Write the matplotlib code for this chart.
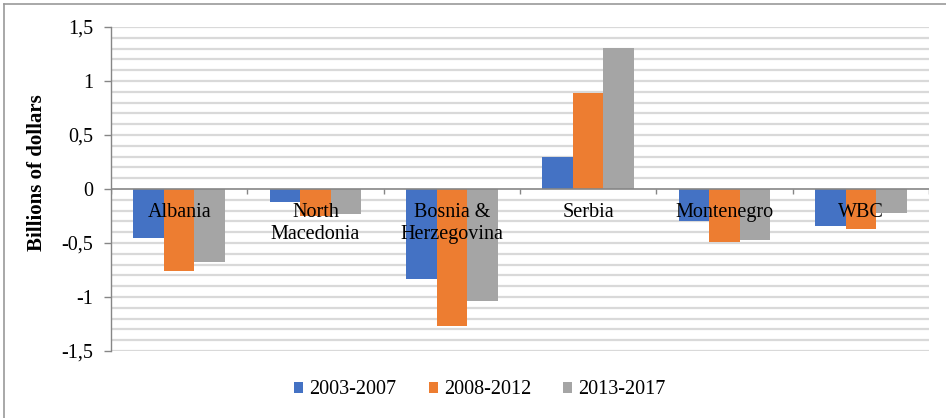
import matplotlib
matplotlib.use("Agg")
import matplotlib.pyplot as plt
import numpy as np
from matplotlib.lines import Line2D

categories = ["Albania", "North\nMacedonia", "Bosnia &\nHerzegovina", "Serbia", "Montenegro", "WBC"]
series_names = ["2003-2007", "2008-2012", "2013-2017"]
s2003 = [-0.45, -0.12, -0.83, 0.30, -0.30, -0.34]
s2008 = [-0.76, -0.25, -1.27, 0.89, -0.49, -0.37]
s2013 = [-0.68, -0.23, -1.04, 1.31, -0.47, -0.22]
colors = ["#4472C4", "#ED7D31", "#A5A5A5"]
ytick_vals = [-1.5, -1.0, -0.5, 0, 0.5, 1.0, 1.5]
ytick_labels = ["-1,5", "-1", "-0,5", "0", "0,5", "1", "1,5"]

serif = ["Liberation Serif", "DejaVu Serif"]

fig = plt.figure(figsize=(9.46, 4.18), dpi=100)
ax = fig.add_axes([111/946, 1-351/418, (929-111)/946, (351-27)/418])

x = np.arange(len(categories))
w = 0.224
for k, (vals, c, name) in enumerate(zip([s2003, s2008, s2013], colors, series_names)):
    ax.bar(x + (k-1)*w, vals, width=w, color=c, label=name, zorder=3)

ax.set_xlim(-0.5, len(categories)-0.5)
ax.set_ylim(-1.5, 1.5)
for v in np.arange(-15, 16) / 10:
    if abs(v) < 1e-9:
        continue
    ax.axhline(v, color="#d9d9d9", lw=1.6, zorder=1)
ax.axhline(0, color="#868686", lw=1.2, zorder=4)
ax.vlines(np.arange(len(categories)+1) - 0.5, -0.045, 0, color="#868686", lw=1.0, zorder=4)

ax.set_yticks(ytick_vals)
ax.set_yticklabels(ytick_labels, fontfamily=serif, fontsize=14.5)
ax.tick_params(axis="y", length=5, color="#868686", width=1.0, pad=8)
ax.set_xticks([])
for s in ["top", "right", "bottom"]:
    ax.spines[s].set_visible(False)
ax.spines["left"].set_color("#868686")
ax.spines["left"].set_linewidth(1.0)

ax.set_ylabel("Billions of dollars", fontfamily=serif, fontsize=15, fontweight="bold", labelpad=9)
ax.yaxis.set_label_coords(-0.078, 0.55)

for i, lab in enumerate(categories):
    ax.annotate(lab, xy=(i, 0), xytext=(0, -10), textcoords="offset points",
                ha="center", va="top", fontfamily=serif, fontsize=14.5, zorder=6,
                linespacing=1.2)

leg = fig.legend(loc="center", bbox_to_anchor=(480/946, 1-390/418), ncol=3, frameon=False,
                 prop={"family": serif, "size": 14.5}, handlelength=0.45, handleheight=0.45,
                 handletextpad=0.3, columnspacing=1.6)

fig.add_artist(Line2D([4/946, 4/946], [0, 1-4/418], transform=fig.transFigure, color="#9a9a9a", lw=1.2))
fig.add_artist(Line2D([4/946, 1], [1-4/418, 1-4/418], transform=fig.transFigure, color="#9a9a9a", lw=1.2))

fig.savefig("out.png", dpi=100)
